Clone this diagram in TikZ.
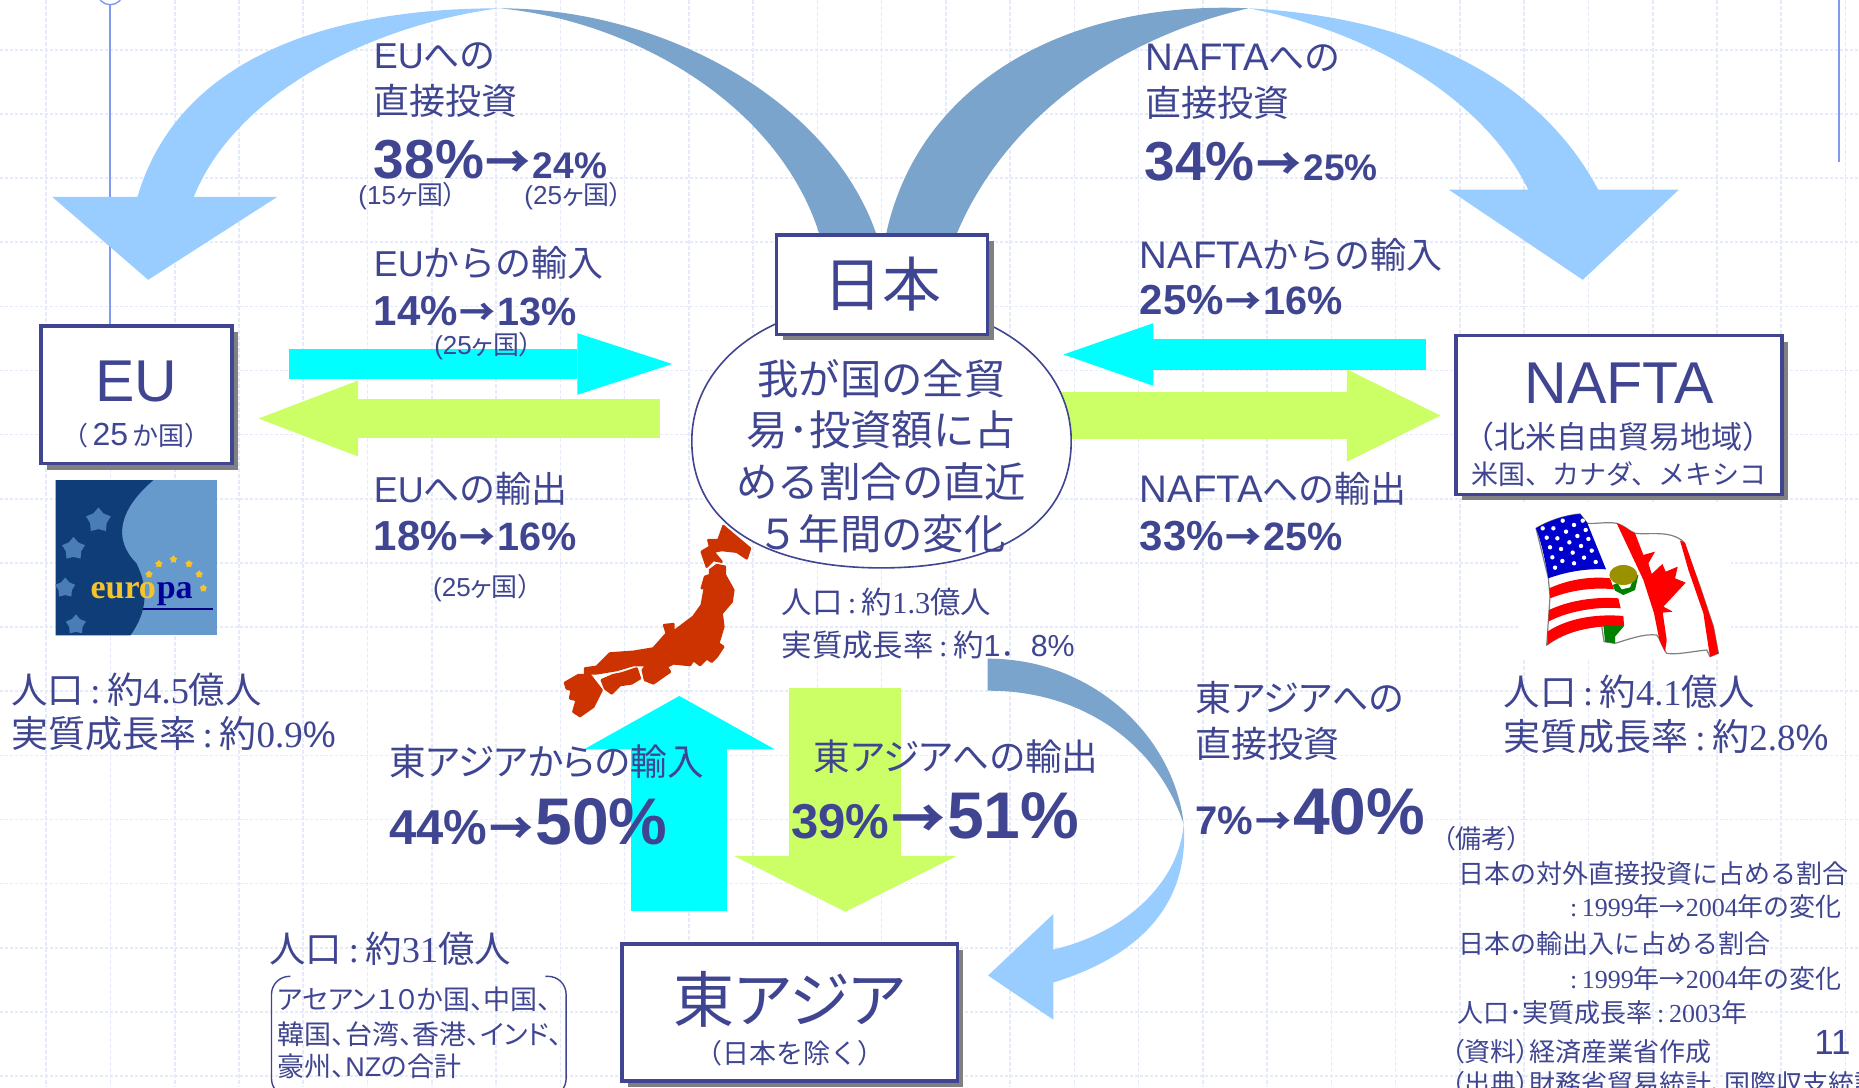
\documentclass[tikz,border=0pt]{standalone}
\usepackage{fontspec}
\setmainfont{Liberation Sans}
\newfontfamily\jp{Noto Sans CJK JP}
\newfontfamily\jpp[RawFeature=+palt]{Noto Sans CJK JP}
\newfontfamily\tms{Liberation Serif}
\usetikzlibrary{arrows.meta,calc,shapes.geometric,shadows}
\definecolor{ink}{HTML}{3F4590}
\definecolor{gridline}{HTML}{E6EBFC}
\definecolor{rulerblue}{HTML}{7F9AF0}
\definecolor{skyarrow}{HTML}{99CCFF}
\definecolor{steelarrow}{HTML}{7BA4CC}
\definecolor{cyanarrow}{HTML}{00FFFF}
\definecolor{limearrow}{HTML}{CCFF66}
\definecolor{maporange}{HTML}{CC3300}
\definecolor{eudark}{HTML}{0E3D78}
\definecolor{eulight}{HTML}{6699CC}
\definecolor{eustar}{HTML}{4A7DB5}
\definecolor{eugold}{HTML}{F5C42C}
\newcommand{\fs}[1]{\fontsize{#1}{#1}\selectfont}
\newcommand{\ja}[1]{{\jp #1}}
\newcommand{\jb}[1]{{\jpp #1}}
\newcommand{\se}[1]{{\tms #1}}
\newcommand{\col}{\hspace{.18em}{\tms :}\hspace{.18em}}
\newcommand{\naf}{{\fs{19.2}NAFTA}}
\newcommand{\chg}[5]{{\fs{#1}#2}\hspace{1pt}{\jp\fs{#3}→}\hspace{1pt}{\fs{#4}#5}}
\def\px{0.5928pt}
\tikzset{
  lbl/.style={anchor=west, inner sep=0pt, text=ink, font={\fs{18}}},
  pctlbl/.style={lbl, font={\bfseries\fs{20}}},
  smalllbl/.style={lbl, font={\fs{13}}},
  countbox/.style={draw=ink, line width=1.8pt, fill=white, inner sep=0pt,
    drop shadow={shadow xshift=3pt, shadow yshift=-3pt, fill=gray, opacity=1}},
  bigtxt/.style={inner sep=0pt, text=ink, font={\fs{29.5}}},
  subtxt/.style={inner sep=0pt, text=ink, font={\fs{13.5}}},
  blockarrow/.style n args={3}{line width=#1pt, -{Triangle[length=#3pt,width=#2pt,line width=0pt]}},
  goldstar/.style={star, star points=5, fill=eugold, inner sep=0pt, minimum size=4pt},
  bluestar/.style={star, star points=5, fill=eustar, inner sep=0pt, minimum size=#1pt},
  mappart/.style={maporange, line width=1.2pt, line join=round},
}
\begin{document}
\begin{tikzpicture}[x=0.5928pt, y=-0.5928pt]
  \clip (0,0) rectangle (1568,916.9);
  \fill[white] (0,0) rectangle (1568,916.9);
  % background grid
  \foreach \gx in {39,93.2,...,1568}
    \draw[gridline, line width=0.8pt, dash pattern=on 2pt off 1pt] (\gx,0) -- (\gx,917);
  \foreach \gy in {42,96.1,...,917}
    \draw[gridline, line width=0.8pt, dash pattern=on 1.5pt off 1pt] (0,\gy) -- (1568,\gy);

  % white back of the flag
  \fill[white] (1280,423) rectangle (1460,556);

  % nodes for the boxes
  \node[countbox, minimum width=161*\px, minimum height=116*\px] (eubox) at (115,333) {};
  \node[circle, draw=rulerblue, line width=0.7pt, fill=white, minimum size=22*\px, inner sep=0pt] (ring) at (93,-7) {};
  \draw[rulerblue, line width=0.8pt] (ring.south) -- (ring.south |- eubox.north);
  \coordinate (rulertop) at (1551,0);
  \coordinate (rulerend) at (1551,137);
  \draw[rulerblue, line width=0.8pt] (rulertop) -- (rulerend);

  % curved arrows
  \fill[steelarrow] (421,7) .. controls (560,7) and (700,85) .. (739,197)
    -- (691,197) .. controls (655,85) and (530,17) .. (421,7) -- cycle;
  \fill[skyarrow] (421,7) .. controls (275,7) and (150,50) .. (116,166)
    -- (44,166) -- (125,236) -- (234,166) -- (163.5,166)
    .. controls (200,75) and (320,20) .. (421,7) -- cycle;
  \fill[steelarrow] (1053,7) .. controls (900,0) and (775,70) .. (747.5,197)
    -- (807,197) .. controls (850,95) and (950,30) .. (1053,7) -- cycle;
  \fill[skyarrow] (1053,7) .. controls (1200,15) and (1300,70) .. (1348,160)
    -- (1416,160) -- (1335,236) -- (1222,160) -- (1289,160)
    .. controls (1250,80) and (1150,25) .. (1053,7) -- cycle;
  \fill[steelarrow] (833,555.6) .. controls (920,555) and (990,620) .. (998.4,695)
    .. controls (975,625) and (910,582) .. (833,582.6) -- cycle;
  \fill[skyarrow] (998.4,695) .. controls (1003,760) and (965,805) .. (888.4,828.7)
    -- (888.4,860) -- (833.4,822.8) -- (888.4,771) -- (888.4,801)
    .. controls (955,785) and (995,740) .. (998.4,695) -- cycle;

  % trade arrows
  \coordinate (euimpa) at (244,307);    \coordinate (euimpb) at (567,307);
  \coordinate (euexpa) at (556.5,353);  \coordinate (euexpb) at (218,353);
  \coordinate (naimpa) at (1203,299);   \coordinate (naimpb) at (897,299);
  \coordinate (naexpa) at (890,350.5);  \coordinate (naexpb) at (1215,350.5);
  \coordinate (asimpa) at (573,768);    \coordinate (asimpb) at (573,587);
  \coordinate (asexpa) at (713,580);    \coordinate (asexpb) at (713,769);
  \draw[cyanarrow, blockarrow={15.4}{30.8}{47.4}] (euimpa) -- (euimpb);
  \draw[limearrow, blockarrow={19.6}{37.9}{49.8}] (euexpa) -- (euexpb);
  \draw[cyanarrow, blockarrow={15.4}{31.4}{45}] (naimpa) -- (naimpb);
  \draw[limearrow, blockarrow={23.7}{46.2}{46.8}] (naexpa) -- (naexpb);
  \draw[cyanarrow, blockarrow={48}{95.4}{26.7}] (asimpa) -- (asimpb);
  \draw[limearrow, blockarrow={56}{111.4}{27.9}] (asexpa) -- (asexpb);

  % map of Japan
  \begin{scope}[shift={(463.9,430.2)}, x=0.1667pt, y=-0.1667pt]
    \filldraw[mappart] (520,48) -- (600,115) -- (590,145) -- (560,125) -- (515,120) -- (490,125) -- (515,155)
      -- (490,150) -- (470,170) -- (455,125) -- (480,110) -- (475,90) -- (505,90) -- cycle;
    \filldraw[mappart] (480,180) -- (500,165) -- (525,170) -- (525,195) -- (550,240) -- (545,275) -- (515,310)
      -- (520,350) -- (505,400) -- (520,410) -- (500,440) -- (485,455) -- (470,445) -- (450,465) -- (430,450)
      -- (420,465) -- (370,460) -- (350,470) -- (360,485) -- (310,520) -- (285,510) -- (278,480) -- (290,465)
      -- (250,465) -- (200,480) -- (140,490) -- (105,490) -- (105,475) -- (140,470) -- (180,430) -- (250,425)
      -- (310,415) -- (350,370) -- (342,345) -- (370,342) -- (370,365) -- (430,320) -- (455,285) -- (465,230)
      -- (455,235) -- (465,200) -- (480,195) -- cycle;
    \filldraw[mappart] (155,510) -- (190,495) -- (215,490) -- (260,475) -- (270,505) -- (245,520) -- (210,525)
      -- (185,550) -- (165,535) -- cycle;
    \filldraw[mappart] (45,518) -- (85,495) -- (120,495) -- (155,540) -- (130,590) -- (90,618) -- (70,605)
      -- (80,570) -- (60,565) -- (65,540) -- (50,535) -- cycle;
  \end{scope}

  % centre
  \filldraw[draw=ink, line width=0.8pt, fill=white] (583.5,372) .. controls (583.5,305) and (650,255) .. (743.5,255)
    .. controls (837,255) and (903.5,305) .. (903.5,372)
    .. controls (903.5,445) and (837,479) .. (743.5,479)
    .. controls (650,479) and (583.5,445) .. (583.5,372) -- cycle;
  \node[countbox, minimum width=178*\px, minimum height=84*\px] (japanbox) at (744,240) {};
  \node[bigtxt] (japantxt) at (japanbox.center) {\ja{日本}};
  \node[inner sep=0pt, text=ink, align=center, font={\jp\fontsize{20.7}{25.8}\selectfont}] (ovaltxt) at (743.5,384.5)
    {我が国の全貿\\易･投資額に占\\める割合の直近\\５年間の変化};

  % other boxes
  \node[bigtxt] (eutxt) at (115,322) {EU};
  \node[subtxt, font={\fs{13}}] (eusub) at (115,367) {\ja{（}\hspace{2pt}{\fs{16}25}\hspace{2pt}\ja{か国）}};
  \node[countbox, minimum width=275*\px, minimum height=134*\px] (nabox) at (1365.5,350) {};
  \node[bigtxt] (natxt) at (1365.5,323) {NAFTA};
  \node[subtxt, font={\fs{15.5}}] (nasub) at (1365.5,368) {\ja{（北米自由貿易地域）}};
  \node[subtxt] (namem) at (1365.5,400) {\ja{米国、カナダ、メキシコ}};
  \node[countbox, minimum width=283*\px, minimum height=116*\px] (asiabox) at (666,854) {};
  \node[bigtxt, font={\fs{30.5}}] (asiatxt) at (666,843) {\jb{東アジア}};
  \node[subtxt] (asiasub) at (666,888) {\ja{（日本を除く）}};

  % EU picture
  \fill[eulight] (47,405) rectangle (183,536);
  \fill[eudark] (47,405) -- (129.3,405) .. controls (100,430) and (95,455) .. (115,475)
    .. controls (125,495) and (125,515) .. (110,536) -- (47,536) -- cycle;
  \node[bluestar=13] (star1) at (83,439) {};
  \node[bluestar=12] (star2) at (62,463) {};
  \node[bluestar=10.5] (star3) at (55,496) {};
  \node[bluestar=10.5] (star4) at (64,527) {};
  \foreach \sx/\sy [count=\si] in {134/475.7, 146.3/471.8, 159.4/475.7, 168/484.4, 171.5/496.2, 125.7/484.4}
    \node[goldstar] (gold\si) at (\sx,\sy) {};
  \node[inner sep=0pt, anchor=base west, text=eugold, font={\tms\bfseries\fs{17}}] (euroword) at (76,504.5) {euro};
  \node[inner sep=0pt, anchor=base west, text=blue!60!black, font={\tms\bfseries\fs{17}}] (paword) at (euroword.base east) {pa};
  \coordinate (ulinea) at (121,513.5);
  \coordinate (ulineb) at (180,513.5);
  \draw[blue!50!black, line width=1pt] (ulinea) -- (ulineb);

  % NAFTA flag
  \begin{scope}[shift={(1265.2,421.7)}, x=0.1667pt, y=-0.1667pt]
    \filldraw[fill=white, draw=gray, line width=0.6pt] (108,85) .. controls (150,60) and (200,45) .. (240,42) -- (262,70)
      .. controls (290,72) and (320,65) .. (350,70) .. controls (375,78) and (390,95) .. (405,100)
      .. controls (450,105) and (510,90) .. (550,125) -- (600,260) -- (640,380) -- (655,460) -- (630,470) -- (620,450)
      .. controls (570,455) and (530,465) .. (500,460) .. controls (485,440) and (480,415) .. (470,405)
      .. controls (430,400) and (380,420) .. (345,430) -- (312,425) -- (305,378) .. controls (250,380) and (190,400) .. (140,435)
      -- (150,290) -- (145,235) -- cycle;
    \fill[blue!80!black] (108,85) .. controls (150,60) and (200,45) .. (240,42) -- (262,70) -- (318,208)
      .. controls (260,205) and (200,215) .. (145,235) .. controls (135,180) and (125,130) .. (108,85) -- cycle;
    \foreach \fx/\fy in {128/85, 160/85, 188/62, 222/75, 248/62, 198/95, 232/108, 257/90, 140/113, 172/115, 208/127,
      243/138, 265/117, 150/142, 183/147, 218/158, 275/152, 157/172, 187/183, 222/190, 252/173, 287/186, 165/203}
      \fill[white] (\fx,\fy) circle (1.1pt);
    \fill[red] (148,265) .. controls (200,240) and (270,228) .. (330,235) -- (342,268)
      .. controls (270,260) and (200,275) .. (150,295) -- cycle;
    \fill[red] (147,330) .. controls (210,300) and (290,290) .. (355,295) -- (362,325)
      .. controls (290,318) and (200,335) .. (145,365) -- cycle;
    \fill[red] (142,395) .. controls (210,350) and (300,342) .. (370,348) -- (372,378)
      .. controls (280,375) and (190,395) .. (142,435) -- cycle;
    \fill[green!50!black] (310,375) -- (372,378) -- (345,410) -- (345,430) -- (315,425) -- cycle;
    \fill[green!50!black] (338,255) -- (415,225) -- (405,270) -- (370,285) -- (345,272) -- cycle;
    \fill[white] (352,248) -- (398,240) -- (390,262) -- (365,268) -- cycle;
    \fill[olive!90!yellow] (370,225) ellipse (7pt and 5pt);
    \fill[red] (350,70) .. controls (375,78) and (390,95) .. (405,100) -- (430,165) -- (465,155) -- (445,190) -- (455,222)
      -- (487,192) -- (497,215) -- (533,200) -- (525,235) -- (557,248) -- (490,320) -- (518,335) -- (488,338)
      -- (500,420) -- (495,455) -- (478,420) -- (462,340) -- (430,240) -- cycle;
    \fill[red] (540,122) -- (555,128) -- (600,260) -- (640,380) -- (655,460) -- (630,470) -- (625,440) -- (610,340) -- (565,210) -- cycle;
  \end{scope}

  % EU labels
  \node[lbl] (euinva) at (315,47) {EU\ja{への}};
  \node[lbl] (euinvb) at (315,85) {\ja{直接投資}};
  \node[pctlbl] (euinvc) at (315,135) {\chg{27.5}{38\%}{22.5}{18.5}{24\%}};
  \node[lbl, font={\fs{13}}] (euinvd) at (302,165) {(15\jb{ヶ国）}};
  \node[lbl, font={\fs{13}}] (euinve) at (442,165) {(25\jb{ヶ国）}};
  \node[lbl] (euimpt) at (315,222) {EU\ja{からの輸入}};
  \node[pctlbl] (euimpp) at (315,262) {\chg{21}{14\%}{18}{19.8}{13\%}};
  \node[lbl, font={\fs{13}}] (euimpc) at (366,292) {(25\jb{ヶ国）}};
  \node[lbl] (euexpt) at (315,412) {EU\ja{への輸出}};
  \node[pctlbl] (euexpp) at (315,452) {\chg{21}{18\%}{18}{19.8}{16\%}};
  \node[lbl, font={\fs{13}}] (euexpc) at (365,496) {(25\jb{ヶ国）}};

  % NAFTA labels
  \node[lbl] (nainva) at (966,49) {\naf\ja{への}};
  \node[lbl] (nainvb) at (966,87) {\ja{直接投資}};
  \node[pctlbl] (nainvc) at (965,136) {\chg{27.5}{34\%}{22.5}{18.5}{25\%}};
  \node[lbl] (naimpt) at (961,215) {\naf\ja{からの輸入}};
  \node[pctlbl] (naimpp) at (961,253) {\chg{21}{25\%}{18}{19.8}{16\%}};
  \node[lbl] (naexpt) at (961,412) {\naf\ja{への輸出}};
  \node[pctlbl] (naexpp) at (961,452) {\chg{21}{33\%}{18}{19.8}{25\%}};

  % population labels
  \node[lbl, font={\fs{18.2}}] (eupop) at (9,582) {\ja{人口}\col\ja{約}\se{4.5}\ja{億人}};
  \node[lbl, font={\fs{18.5}}] (eugrow) at (9,619) {\ja{実質成長率}\col\ja{約}\se{0.9}\%};
  \node[lbl, font={\fs{18.2}}] (napop) at (1268,583) {\ja{人口}\col\ja{約}\se{4.1}\ja{億人}};
  \node[lbl, font={\fs{18.5}}] (nagrow) at (1268,621) {\ja{実質成長率}\col\ja{約}\se{2.8}\%};
  \node[lbl, font={\fs{15.2}}] (jppop) at (659,508) {\ja{人口}\col\ja{約}\se{1.3}\ja{億人}};
  \node[lbl, font={\fs{15.2}}] (jpgrow) at (659,544) {\ja{実質成長率}\col\ja{約}1\ja{．}8\%};
  \node[lbl, font={\fs{18.2}}] (aspop) at (227,800) {\ja{人口}\col\ja{約}\se{31}\ja{億人}};

  % East Asia labels
  \node[lbl] (asinva) at (1008,589) {\jb{東アジアへの}};
  \node[lbl] (asinvb) at (1008,627) {\ja{直接投資}};
  \node[pctlbl] (asinvc) at (1008,685) {\chg{20}{7\%}{18}{33}{40\%}};
  \node[lbl, font={\fs{18.3}}] (asimpt) at (328,642) {\jb{東アジアからの輸入}};
  \node[pctlbl] (asimpp) at (328,693) {\chg{24.5}{44\%}{22}{33}{50\%}};
  \node[lbl, font={\fs{18.3}}] (asexpt) at (686,638) {\jb{東アジアへの輸出}};
  \node[pctlbl] (asexpp) at (667,688) {\chg{24.5}{39\%}{27}{33}{51\%}};

  % member list with its brackets
  \coordinate (brla) at (245,823.5);  \coordinate (brlb) at (245,925);
  \coordinate (brra) at (460,823.5);  \coordinate (brrb) at (460,925);
  \draw[ink, line width=0.7pt, rounded corners=9pt] (brla) -| (229,925) -- (brlb);
  \draw[ink, line width=0.7pt, rounded corners=9pt] (brra) -| (477.5,925) -- (brrb);
  \node[smalllbl, font={\fs{13.5}}] (asmema) at (234,843) {\jb{アセアン１０か国、中国、}};
  \node[smalllbl, font={\fs{13.5}}] (asmemb) at (234,872) {\jb{韓国、台湾、香港、インド、}};
  \node[smalllbl, font={\fs{13.5}}] (asmemc) at (234,899) {\jb{豪州、}NZ\jb{の合計}};

  % notes
  \node[smalllbl] (nota) at (1216,707) {\jb{（備考）}};
  \node[smalllbl] (notb) at (1230,736.5) {\ja{日本の対外直接投資に占める割合}};
  \node[smalllbl] (notc) at (1320,765) {\col\se{1999}\ja{年→}\se{2004}\ja{年の変化}};
  \node[smalllbl] (notd) at (1230,796) {\ja{日本の輸出入に占める割合}};
  \node[smalllbl] (note) at (1320,825) {\col\se{1999}\ja{年→}\se{2004}\ja{年の変化}};
  \node[smalllbl] (notf) at (1229,854) {\jb{人口･実質成長率}\col\se{2003}\ja{年}};
  \node[smalllbl] (notg) at (1224,886.6) {\jb{（資料）経済産業省作成}};
  \node[smalllbl] (noth) at (1224,914) {\jb{（出典）財務省貿易統計、国際収支統計}};
  \node[lbl, font={\fs{17.5}}] (pageno) at (1530,879) {11};
\end{tikzpicture}
\end{document}
